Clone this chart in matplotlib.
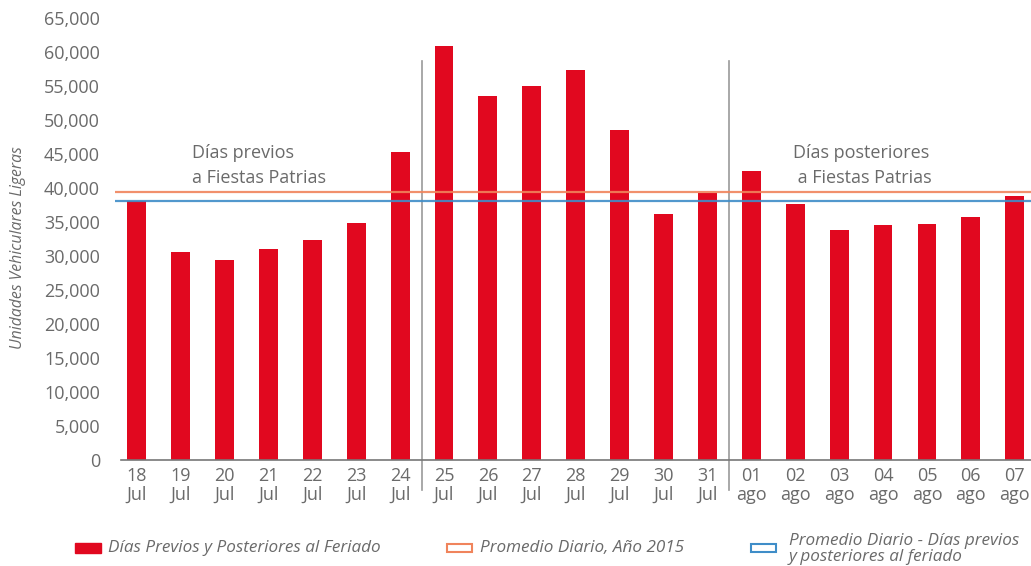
import matplotlib.pyplot as plt
from matplotlib.patches import Rectangle
from matplotlib.ticker import FuncFormatter

# datos
dias = ["18", "19", "20", "21", "22", "23", "24", "25", "26", "27", "28",
        "29", "30", "31", "01", "02", "03", "04", "05", "06", "07"]
meses = ["Jul"] * 14 + ["ago"] * 7
vehiculos = [38100, 30600, 29400, 31000, 32300, 34800, 45300, 60900, 53600,
             55000, 57300, 48600, 36200, 39300, 42500, 37700, 33800, 34600,
             34700, 35700, 38800]
promedio_2015 = 39400
promedio_feriado = 38100
cortes = ["24", "31"]  # separadores despues de estos dias

rojo = "#E1081F"
naranja = "#F0845C"
azul = "#3F8DC8"
gris = "#6a6a6a"

plt.rcParams["font.family"] = ["Open Sans", "DejaVu Sans"]

fig = plt.figure(figsize=(10.31, 5.66), dpi=100)
ax = fig.add_axes([114.7 / 1031, 106 / 566, 916.3 / 1031, 442 / 566])

x = list(range(len(vehiculos)))
ax.bar(x, vehiculos, width=0.43, color=rojo, zorder=2)

ax.axhline(promedio_2015, color=naranja, lw=1.6, alpha=0.9, zorder=3)
ax.axhline(promedio_feriado, color=azul, lw=1.6, alpha=0.9, zorder=3)

for c in cortes:
    xc = dias.index(c) + 0.5
    ax.plot([xc, xc], [-4400, 58700], color="#999999", lw=1.2, clip_on=False, zorder=1)

ax.set_xlim(-0.5, 20.37)
ax.set_ylim(0, 65000)

ax.set_yticks(range(0, 65001, 5000))
ax.yaxis.set_major_formatter(FuncFormatter(lambda v, p: f"{int(v):,}"))
ax.set_xticks(x)
ax.set_xticklabels([d + "\n" + m for d, m in zip(dias, meses)], linespacing=1.05)

ax.tick_params(axis="y", length=0, pad=10.6, labelsize=13, labelcolor=gris)
ax.tick_params(axis="x", length=0, pad=5, labelsize=13, labelcolor=gris)

for s in ["top", "right", "left"]:
    ax.spines[s].set_visible(False)
ax.spines["bottom"].set_color("#777777")
ax.spines["bottom"].set_linewidth(1.2)
ax.spines["bottom"].set_bounds(-0.36, 20.37)

ax.set_ylabel("Unidades Vehiculares Ligeras", fontsize=11.3, style="italic",
              color=gris)
ax.yaxis.set_label_coords(-0.097, (460 - 248) / 442)

ax.text(1.25, 43300, "Días previos\na Fiestas Patrias", fontsize=13, color=gris,
        ha="left", va="center", linespacing=1.45)
ax.text(14.95, 43300, "Días posteriores\n a Fiestas Patrias", fontsize=13, color=gris,
        ha="left", va="center", linespacing=1.45)

# leyenda manual
W, H = 1031, 566
def caja(x0, y0, w, h, **kw):
    fig.patches.append(Rectangle((x0 / W, 1 - (y0 + h) / H), w / W, h / H,
                                 transform=fig.transFigure, **kw))

caja(75, 543, 26, 10, facecolor=rojo, edgecolor=rojo)
fig.text(108 / W, 1 - 548 / H, "Días Previos y Posteriores al Feriado", fontsize=12.3,
         style="italic", color=gris, va="center")
caja(447, 544, 25, 8, facecolor="white", edgecolor=naranja, lw=1.5)
fig.text(480 / W, 1 - 548 / H, "Promedio Diario, Año 2015", fontsize=12.3,
         style="italic", color=gris, va="center")
caja(751, 544, 25, 8, facecolor="white", edgecolor=azul, lw=1.5)
fig.text(789 / W, 1 - 549 / H, "Promedio Diario - Días previos\ny posteriores al feriado",
         fontsize=12.3, style="italic", color=gris, va="center", linespacing=0.95)

plt.savefig("out.png", dpi=100)
